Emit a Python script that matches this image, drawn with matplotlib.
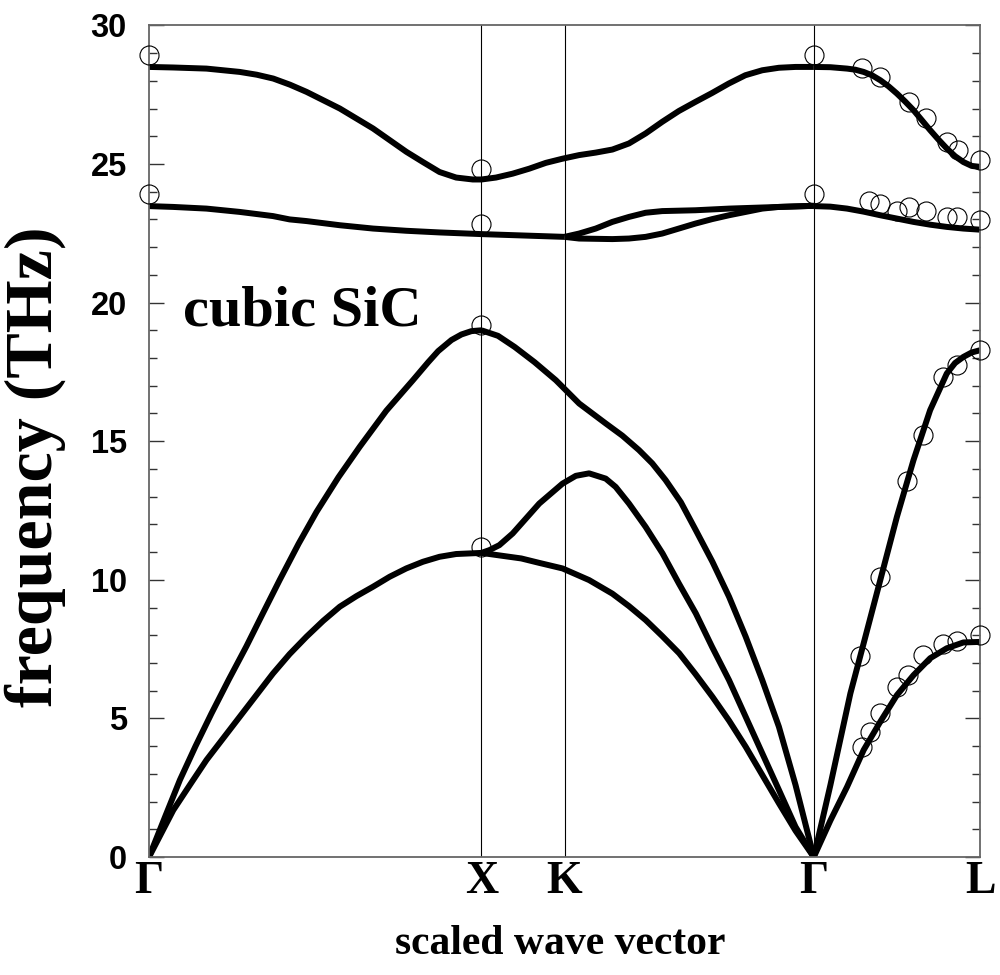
import matplotlib
matplotlib.use("Agg")
import matplotlib.pyplot as plt
from matplotlib.ticker import MultipleLocator

# path coordinates: Gamma=0, X=1, K=1.25, Gamma=2, L=2.5
sym_pos = [0, 1, 1.25, 2, 2.5]
sym_lab = ['\u0393', 'X', 'K', '\u0393', 'L']

# calculated branches, Gamma-X
ta_gx_x = [0, 0.073, 0.123, 0.173, 0.223, 0.273, 0.323, 0.373, 0.423, 0.474, 0.524,
           0.574, 0.624, 0.674, 0.724, 0.774, 0.824, 0.874, 0.924, 1.0]
ta_gx_y = [0, 1.69, 2.6, 3.5, 4.28, 5.06, 5.84, 6.62, 7.32, 7.95, 8.52,
           9.03, 9.41, 9.75, 10.11, 10.41, 10.65, 10.83, 10.93, 10.97]
la_gx_x = [0, 0.05, 0.093, 0.14, 0.188, 0.24, 0.293, 0.343, 0.393, 0.45, 0.504,
           0.57, 0.634, 0.714, 0.794, 0.84, 0.87, 0.91, 0.94, 0.97, 1.0]
la_gx_y = [0, 1.5, 2.78, 4.0, 5.18, 6.4, 7.6, 8.8, 9.99, 11.3, 12.45,
           13.7, 14.8, 16.1, 17.2, 17.85, 18.25, 18.65, 18.85, 18.97, 19.0]
to_gx_x = [0, 0.073, 0.173, 0.223, 0.273, 0.373, 0.423, 0.474, 0.574, 0.674, 0.774, 0.874, 1.0]
to_gx_y = [23.48, 23.45, 23.39, 23.33, 23.27, 23.12, 23.0, 22.94, 22.79, 22.67, 22.59, 22.53, 22.47]
lo_gx_x = [0, 0.073, 0.173, 0.273, 0.324, 0.374, 0.424, 0.474, 0.524, 0.574, 0.624,
           0.674, 0.724, 0.774, 0.824, 0.874, 0.924, 0.974, 1.0]
lo_gx_y = [28.5, 28.48, 28.44, 28.32, 28.22, 28.08, 27.86, 27.6, 27.3, 27.0, 26.64,
           26.28, 25.86, 25.44, 25.07, 24.71, 24.51, 24.44, 24.44]

# X-K-Gamma
ta_xg_x = [1.0, 1.12, 1.174, 1.244, 1.324, 1.394, 1.444, 1.494, 1.544, 1.595, 1.644,
           1.695, 1.745, 1.795, 1.845, 1.895, 1.945, 2.0]
ta_xg_y = [10.97, 10.77, 10.61, 10.41, 9.99, 9.5, 9.05, 8.55, 7.97, 7.35, 6.6,
           5.78, 4.92, 3.98, 2.96, 1.94, 0.95, 0]
mid_xg_x = [1.0, 1.024, 1.054, 1.094, 1.134, 1.174, 1.244, 1.284, 1.324, 1.374, 1.404,
            1.444, 1.494, 1.545, 1.594, 1.645, 1.694, 1.745, 1.795, 1.845, 1.895, 1.945, 2.0]
mid_xg_y = [10.97, 11.07, 11.25, 11.67, 12.21, 12.75, 13.47, 13.75, 13.84, 13.65, 13.35,
            12.75, 11.91, 10.95, 9.87, 8.79, 7.58, 6.38, 5.06, 3.74, 2.42, 1.09, 0]
la_xg_x = [1.0, 1.05, 1.1, 1.16, 1.224, 1.294, 1.374, 1.424, 1.474, 1.514, 1.554,
           1.6, 1.645, 1.695, 1.745, 1.795, 1.845, 1.895, 1.945, 2.0]
la_xg_y = [19.0, 18.8, 18.4, 17.85, 17.2, 16.36, 15.64, 15.2, 14.68, 14.2, 13.6,
           12.8, 11.79, 10.65, 9.39, 7.95, 6.38, 4.7, 2.6, 0]
to_xk_x = [1.0, 1.1, 1.25]
to_xk_y = [22.47, 22.43, 22.37]
to1_kg_x = [1.25, 1.294, 1.344, 1.394, 1.444, 1.494, 1.544, 1.644, 1.745, 1.845, 2.0]
to1_kg_y = [22.37, 22.49, 22.67, 22.91, 23.09, 23.24, 23.3, 23.33, 23.39, 23.43, 23.49]
to2_kg_x = [1.25, 1.294, 1.394, 1.444, 1.494, 1.544, 1.594, 1.644, 1.694, 1.745,
            1.795, 1.845, 1.895, 2.0]
to2_kg_y = [22.37, 22.31, 22.29, 22.31, 22.37, 22.49, 22.67, 22.85, 23.01, 23.15,
            23.27, 23.39, 23.45, 23.49]
lo_xg_x = [1.0, 1.044, 1.094, 1.144, 1.194, 1.244, 1.294, 1.344, 1.394, 1.444, 1.494,
           1.544, 1.594, 1.644, 1.694, 1.744, 1.794, 1.845, 1.895, 1.945, 2.0]
lo_xg_y = [24.44, 24.51, 24.65, 24.83, 25.04, 25.19, 25.32, 25.41, 25.52, 25.74, 26.1,
           26.52, 26.91, 27.24, 27.56, 27.9, 28.2, 28.38, 28.47, 28.5, 28.5]

# Gamma-L
ta_gl_x = [2.0, 2.05, 2.1, 2.15, 2.2, 2.25, 2.3, 2.35, 2.4, 2.45, 2.5]
ta_gl_y = [0, 1.32, 2.53, 3.86, 4.88, 5.84, 6.56, 7.17, 7.53, 7.74, 7.76]
la_gl_x = [2.0, 2.05, 2.11, 2.15, 2.2, 2.25, 2.3, 2.35, 2.4, 2.425, 2.45, 2.475, 2.5]
la_gl_y = [0, 2.6, 5.9, 7.71, 9.99, 12.27, 14.32, 16.12, 17.44, 17.82, 18.04, 18.2, 18.28]
to_gl_x = [2.0, 2.05, 2.1, 2.15, 2.2, 2.25, 2.3, 2.35, 2.4, 2.45, 2.5]
to_gl_y = [23.48, 23.46, 23.39, 23.28, 23.15, 23.03, 22.91, 22.81, 22.73, 22.67, 22.63]
lo_gl_x = [2.0, 2.05, 2.1, 2.125, 2.15, 2.175, 2.2, 2.225, 2.25, 2.275, 2.3, 2.325,
           2.35, 2.375, 2.4, 2.425, 2.45, 2.475, 2.5]
lo_gl_y = [28.5, 28.49, 28.44, 28.4, 28.32, 28.2, 28.02, 27.8, 27.54, 27.25, 26.94, 26.58,
           26.22, 25.88, 25.56, 25.28, 25.07, 24.93, 24.89]

# measured points
exp_sym_x = [0, 0, 1, 1, 1, 1, 2, 2]
exp_sym_y = [28.92, 23.93, 24.83, 22.83, 19.18, 11.2, 28.92, 23.93]
exp_lo_x = [2.146, 2.2, 2.285, 2.337, 2.4, 2.433, 2.5]
exp_lo_y = [28.47, 28.14, 27.22, 26.67, 25.8, 25.5, 25.14]
exp_to_x = [2.165, 2.2, 2.25, 2.285, 2.337, 2.4, 2.43, 2.5]
exp_to_y = [23.66, 23.57, 23.31, 23.43, 23.31, 23.09, 23.07, 22.97]
exp_la_x = [2.14, 2.2, 2.28, 2.33, 2.39, 2.43, 2.5]
exp_la_y = [7.25, 10.1, 13.57, 15.22, 17.3, 17.74, 18.28]
exp_ta_x = [2.146, 2.168, 2.2, 2.25, 2.284, 2.33, 2.39, 2.43, 2.5]
exp_ta_y = [3.98, 4.5, 5.18, 6.12, 6.56, 7.28, 7.7, 7.8, 8.0]

branches = [
    (ta_gx_x, ta_gx_y), (la_gx_x, la_gx_y), (to_gx_x, to_gx_y), (lo_gx_x, lo_gx_y),
    (ta_xg_x, ta_xg_y), (mid_xg_x, mid_xg_y), (la_xg_x, la_xg_y),
    (to_xk_x, to_xk_y), (to1_kg_x, to1_kg_y), (to2_kg_x, to2_kg_y), (lo_xg_x, lo_xg_y),
    (ta_gl_x, ta_gl_y), (la_gl_x, la_gl_y), (to_gl_x, to_gl_y), (lo_gl_x, lo_gl_y),
]
points = [
    (exp_sym_x, exp_sym_y), (exp_lo_x, exp_lo_y), (exp_to_x, exp_to_y),
    (exp_la_x, exp_la_y), (exp_ta_x, exp_ta_y),
]

serif = 'Liberation Serif'
sans = 'Liberation Sans'

fig = plt.figure(figsize=(10, 9.75), dpi=100)
ax = fig.add_axes([0.149, 0.121, 0.831, 0.853])

for xv in sym_pos[1:4]:
    ax.axvline(xv, color='black', lw=0.8, zorder=1)

for bx, by in branches:
    ax.plot(bx, by, color='black', lw=4.3, solid_capstyle='butt',
            solid_joinstyle='round', zorder=2)

for px, py in points:
    ax.plot(px, py, 'o', ms=13.7, mfc='none', mec='black', mew=0.8,
            clip_on=False, zorder=3)

ax.set_xlim(0, 2.5)
ax.set_ylim(0, 30)

ax.set_xticks(sym_pos)
ax.set_xticklabels(sym_lab, fontfamily=serif, fontweight='bold', fontsize=33)
ax.tick_params(axis='x', length=0, pad=3)

ax.yaxis.set_major_locator(MultipleLocator(5))
ax.yaxis.set_minor_locator(MultipleLocator(1))
ax.tick_params(axis='y', which='both', direction='in', left=True, right=True,
               color='#333333', width=1.0)
ax.tick_params(axis='y', which='major', length=10.5, pad=16)
ax.tick_params(axis='y', which='minor', length=6)
for lab in ax.get_yticklabels():
    lab.set_fontfamily(sans)
    lab.set_fontweight('bold')
    lab.set_fontsize(23.5)

for sp in ax.spines.values():
    sp.set_color('#666666')
    sp.set_linewidth(1.3)

ax.text(0.102, 19.19, 'cubic SiC', fontfamily=serif, fontweight='bold',
        fontsize=42, va='baseline', ha='left')

fig.text(0.035, 1 - 467 / 975, 'frequency (THz)', rotation=90, ha='center',
         va='center', fontfamily=serif, fontweight='bold', fontsize=49)
fig.text(0.56, 1 - 944 / 975, 'scaled wave vector', ha='center', va='center',
         fontfamily=serif, fontweight='bold', fontsize=30)

fig.savefig('out.png', dpi=100)
